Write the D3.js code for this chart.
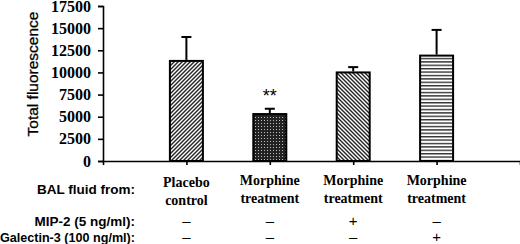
<!DOCTYPE html>
<html>
<head>
<meta charset="utf-8">
<script src="https://cdn.jsdelivr.net/npm/d3@7"></script>
<style>
  body { margin: 0; background: #fff; }
</style>
</head>
<body>
<div id="chart"></div>
<script>
// groups on the x axis
const groups = ['placebo', 'morphine', 'morphine_mip2', 'morphine_gal3'];
const groupLabels = [['Placebo', 'control'], ['Morphine', 'treatment'], ['Morphine', 'treatment'], ['Morphine', 'treatment']];
// mean total fluorescence and top of the error bar
const means = [11300, 5300, 10000, 11900];
const errTops = [14000, 5900, 10600, 14800];
const signif = ['', '**', '', ''];
const mip2 = ['\u2013', '\u2013', '+', '\u2013'];
const galectin3 = ['\u2013', '\u2013', '\u2013', '+'];
const yTicks = [0, 2500, 5000, 7500, 10000, 12500, 15000, 17500];
const rowLabels = ['BAL fluid from:', 'MIP-2 (5 ng/ml):', 'Galectin-3 (100 ng/ml):'];
const patterns = ['hatchUp', 'dots', 'hatchDown', 'hlines'];

const SERIF = "'Liberation Serif', 'Times New Roman', serif";
const SANS = "'Liberation Sans', Arial, sans-serif";

const width = 520, height = 244;
const margin = {top: 6, left: 103, bottom: 161};

const svg = d3.select('#chart').append('svg')
    .attr('width', width)
    .attr('height', height);

// fill patterns for the bars
const defs = svg.append('defs');
let p = defs.append('pattern').attr('id', 'hatchUp').attr('patternUnits', 'userSpaceOnUse')
    .attr('width', 4).attr('height', 4);
p.append('rect').attr('width', 4).attr('height', 4).attr('fill', '#fff');
p.append('path').attr('d', 'M-1,1 l2,-2 M0,4 l4,-4 M3,5 l2,-2').attr('stroke', '#222').attr('stroke-width', 1.4);

p = defs.append('pattern').attr('id', 'hatchDown').attr('patternUnits', 'userSpaceOnUse')
    .attr('width', 4).attr('height', 4);
p.append('rect').attr('width', 4).attr('height', 4).attr('fill', '#fff');
p.append('path').attr('d', 'M-1,3 l2,2 M0,0 l4,4 M3,-1 l2,2').attr('stroke', '#222').attr('stroke-width', 1.4);

p = defs.append('pattern').attr('id', 'dots').attr('patternUnits', 'userSpaceOnUse')
    .attr('width', 3).attr('height', 3);
p.append('rect').attr('width', 3).attr('height', 3).attr('fill', '#222');
p.append('rect').attr('width', 1).attr('height', 1).attr('fill', '#bbb');

p = defs.append('pattern').attr('id', 'hlines').attr('patternUnits', 'userSpaceOnUse')
    .attr('width', 4).attr('height', 3.4);
p.append('rect').attr('width', 4).attr('height', 3.4).attr('fill', '#fff');
p.append('rect').attr('y', 0).attr('width', 4).attr('height', 1.4).attr('fill', '#333');

const x = d3.scalePoint()
    .domain(groups)
    .range([margin.left, width])
    .padding(1);

const y = d3.scaleLinear()
    .domain([0, 17500])
    .range([margin.bottom, margin.top]);

const barW = 33;

// bars
svg.selectAll('.bar')
    .data(groups)
    .join('rect')
    .attr('class', 'bar')
    .attr('x', d => x(d) - barW / 2)
    .attr('y', (d, i) => y(means[i]))
    .attr('width', barW)
    .attr('height', (d, i) => y(0) - y(means[i]))
    .attr('fill', (d, i) => `url(#${patterns[i]})`)
    .attr('stroke', '#000')
    .attr('stroke-width', 2);

// error bars
const err = svg.selectAll('.err')
    .data(groups)
    .join('g')
    .attr('class', 'err');
err.append('line')
    .attr('x1', d => x(d)).attr('x2', d => x(d))
    .attr('y1', (d, i) => y(means[i]) - 1)
    .attr('y2', (d, i) => y(errTops[i]))
    .attr('stroke', '#000').attr('stroke-width', 2);
err.append('line')
    .attr('x1', d => x(d) - 5).attr('x2', d => x(d) + 5)
    .attr('y1', (d, i) => y(errTops[i]))
    .attr('y2', (d, i) => y(errTops[i]))
    .attr('stroke', '#000').attr('stroke-width', 2);

// significance markers
svg.selectAll('.sig')
    .data(groups)
    .join('text')
    .attr('class', 'sig')
    .attr('x', d => x(d))
    .attr('y', (d, i) => y(errTops[i]) - 7)
    .attr('text-anchor', 'middle')
    .attr('font-family', SANS)
    .attr('font-size', 18)
    .text((d, i) => signif[i]);

// axes
const yAxisG = svg.append('g')
    .attr('transform', `translate(${margin.left},0)`)
    .call(d3.axisLeft(y).tickValues(yTicks).tickSizeOuter(0).tickSize(5).tickPadding(7).tickFormat(d3.format('d')));
yAxisG.selectAll('.tick text')
    .attr('font-family', SERIF)
    .attr('font-weight', 'bold')
    .attr('font-size', 16)
    .attr('fill', '#000');

svg.append('g')
    .attr('transform', `translate(0,${margin.bottom})`)
    .call(d3.axisBottom(x).tickSize(4).tickSizeOuter(4).tickFormat(''));

svg.selectAll('.domain, .tick line').attr('stroke', '#000').attr('stroke-width', 1.6);

// y axis title
svg.append('text')
    .attr('transform', 'translate(38,74) rotate(-90)')
    .attr('text-anchor', 'middle')
    .attr('font-family', SANS)
    .attr('font-size', 15.5)
    .attr('stroke', '#000')
    .attr('stroke-width', 0.3)
    .text('Total fluorescence');

// group labels (two lines each)
const gl = svg.selectAll('.glabel')
    .data(groups)
    .join('text')
    .attr('class', 'glabel')
    .attr('text-anchor', 'middle')
    .attr('font-family', SERIF)
    .attr('font-weight', 'bold')
    .attr('font-size', 14);
gl.append('tspan')
    .attr('x', d => x(d))
    .attr('y', (d, i) => i === 0 ? 187 : 185)
    .text((d, i) => groupLabels[i][0]);
gl.append('tspan')
    .attr('x', d => x(d))
    .attr('y', (d, i) => i === 0 ? 205 : 203)
    .text((d, i) => groupLabels[i][1]);

// row labels on the left
const rowY = [194, 226, 242];
svg.selectAll('.rlabel')
    .data(rowLabels)
    .join('text')
    .attr('class', 'rlabel')
    .attr('x', 135)
    .attr('y', (d, i) => rowY[i])
    .attr('text-anchor', 'end')
    .attr('font-family', SANS)
    .attr('font-weight', 'bold')
    .attr('font-size', (d, i) => i === 2 ? 12.6 : 13.5)
    .text(d => d);

// +/- rows
[mip2, galectin3].forEach((row, r) => {
    svg.selectAll('.pm' + r)
        .data(groups)
        .join('text')
        .attr('class', 'pm' + r)
        .attr('x', d => x(d))
        .attr('y', rowY[r + 1])
        .attr('text-anchor', 'middle')
        .attr('font-family', SANS)
        .attr('font-size', 15)
        .text((d, i) => row[i]);
});
</script>
</body>
</html>
